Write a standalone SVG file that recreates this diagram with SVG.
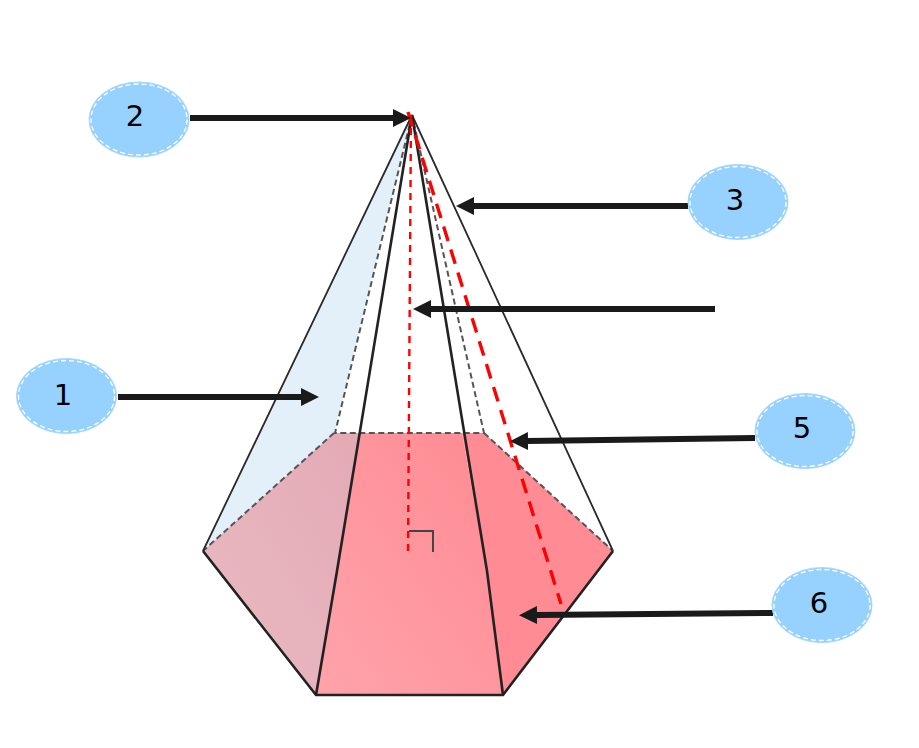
<svg xmlns="http://www.w3.org/2000/svg" width="919" height="748" viewBox="0 0 919 748">
<style>
.b{fill:#97d1fe;stroke:#a6d8fe;stroke-width:1}
.d{fill:none;stroke:#fff;stroke-width:1.3;stroke-dasharray:5 3}
.t{font-family:"DejaVu Sans","Liberation Sans",sans-serif;font-size:29px;fill:#000;text-anchor:middle}
.a{fill:none;stroke:#1a1a1a;stroke-width:6;marker-end:url(#h)}
.e{fill:none;stroke:#2a2a2a;stroke-width:1.8}
.f{fill:none;stroke:#222;stroke-width:2.6}
.g{fill:none;stroke:#555;stroke-width:2;stroke-dasharray:6 3.5}
.r1{fill:none;stroke:#f00;stroke-width:2.4;stroke-dasharray:7 6}
.r2{fill:none;stroke:#f00;stroke-width:3.4;stroke-dasharray:15 9}
</style>
<defs>
<marker id="h" markerUnits="userSpaceOnUse" markerWidth="20" markerHeight="20" refX="1" refY="9" orient="auto"><path d="M0 0L18 9L0 18Z" fill="#1a1a1a"/></marker>
<linearGradient id="p1" x1="0" y1="1" x2="1" y2="0"><stop offset="0" stop-color="#e9bac4"/><stop offset="1" stop-color="#e4aab4"/></linearGradient>
<linearGradient id="p2" x1="0" y1="1" x2="1" y2="0"><stop offset="0" stop-color="#ffa3ab"/><stop offset="1" stop-color="#fe8a92"/></linearGradient>
</defs>
<g id="pyramid">
<path d="M412 115L203 551L334 433Z" fill="#e4f0f9"/>
<path d="M203 551L334 433H360L337 571L316 695Z" fill="url(#p1)"/>
<path d="M360 433H462L487 571L503 695H316L337 571Z" fill="url(#p2)"/>
<path d="M462 433H484L613 551L503 695L487 571Z" fill="#ff8c94"/>
<path class="g" d="M412 115L335 433H484L412 115"/>
<path class="g" d="M334 433L203 551M484 433L613 551"/>
<path class="e" d="M412 115L203 551M412 115L613 551"/>
<path class="f" d="M412 115L337 571L316 695M412 115L487 571L503 695"/>
<path class="f" d="M203 551L316 695H503L613 551"/>
<path class="r1" d="M411 115L408 551"/>
<path class="r2" d="M408 112L561 604"/>
<path d="M409 531H433V552" fill="none" stroke="#444" stroke-width="2"/>
</g>
<g id="connectors">
<path class="a" d="M190 118H394"/>
<path class="a" d="M688 206H473"/>
<path class="a" d="M715 309H430"/>
<path class="a" d="M118 397H302"/>
<path class="a" d="M755 438L527 441"/>
<path class="a" d="M773 613L536 615"/>
</g>
<g id="n2"><ellipse class="b" cx="139" cy="119.500" rx="50" ry="37.500"/><ellipse class="d" cx="139" cy="119.500" rx="48" ry="35.500"/><text class="t" x="135" y="126">2</text></g>
<g id="n3"><ellipse class="b" cx="738" cy="202" rx="50" ry="37.500"/><ellipse class="d" cx="738" cy="202" rx="48" ry="35.500"/><text class="t" x="735" y="210">3</text></g>
<g id="n1"><ellipse class="b" cx="66.500" cy="396" rx="50" ry="37.500"/><ellipse class="d" cx="66.500" cy="396" rx="48" ry="35.500"/><text class="t" x="63" y="405">1</text></g>
<g id="n5"><ellipse class="b" cx="805" cy="431" rx="50" ry="37.500"/><ellipse class="d" cx="805" cy="431" rx="48" ry="35.500"/><text class="t" x="802" y="438">5</text></g>
<g id="n6"><ellipse class="b" cx="822" cy="605" rx="50" ry="37.500"/><ellipse class="d" cx="822" cy="605" rx="48" ry="35.500"/><text class="t" x="819" y="613">6</text></g>
</svg>
